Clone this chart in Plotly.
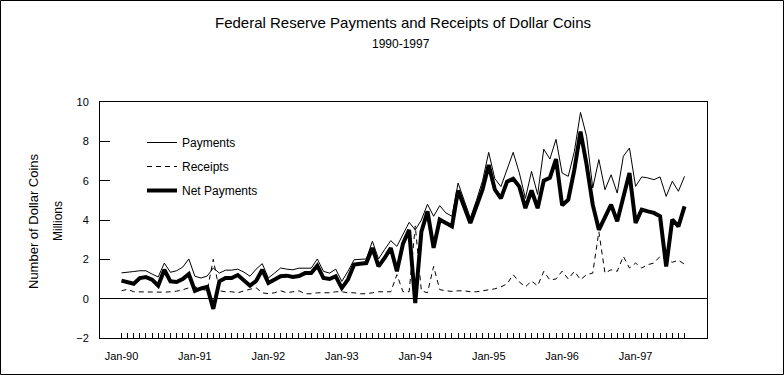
import plotly.graph_objects as go

# ---- data (millions of coins), monthly Jan-90 .. Sep-97 ----
years = ["90", "91", "92", "93", "94", "95", "96", "97"]
month_names = ["Jan", "Feb", "Mar", "Apr", "May", "Jun", "Jul", "Aug", "Sep", "Oct", "Nov", "Dec"]
months = [f"{m}-{y}" for y in years for m in month_names][:93]

tick_labels = ["Jan-90", "Jan-91", "Jan-92", "Jan-93", "Jan-94", "Jan-95", "Jan-96", "Jan-97"]

payments = [
    1.31, 1.33, 1.38, 1.42, 1.42, 1.25, 1.10, 1.81, 1.34, 1.42, 1.60, 2.02,
    1.14, 1.05, 1.15, 1.56, 1.30, 1.45, 1.45, 1.50, 1.35, 1.14, 1.50, 1.78,
    1.05, 1.30, 1.56, 1.50, 1.47, 1.55, 1.55, 1.55, 2.02, 1.39, 1.30, 1.50,
    0.88, 1.39, 1.98, 2.00, 2.02, 2.92, 2.02, 2.50, 2.95, 2.66, 3.30, 3.88,
    3.50, 4.00, 4.80, 4.19, 4.73, 4.36, 4.19, 5.88, 5.00, 4.10, 5.00, 6.00,
    7.44, 6.10, 5.70, 6.60, 7.44, 6.40, 5.10, 6.47, 5.30, 7.60, 7.10, 8.10,
    6.39, 6.22, 7.49, 9.47, 8.25, 5.63, 7.07, 5.54, 6.30, 5.37, 7.24, 7.66,
    5.71, 6.19, 6.14, 6.05, 6.19, 5.20, 5.97, 5.46, 6.22,
]

receipts = [
    0.40, 0.48, 0.35, 0.34, 0.33, 0.32, 0.33, 0.33, 0.35, 0.38, 0.45, 0.55,
    0.60, 0.50, 0.40, 2.00, 0.40, 0.35, 0.35, 0.30, 0.40, 0.48, 0.55, 0.30,
    0.25, 0.30, 0.40, 0.30, 0.35, 0.40, 0.25, 0.25, 0.30, 0.30, 0.30, 0.35,
    0.35, 0.30, 0.30, 0.25, 0.25, 0.30, 0.35, 0.35, 0.35, 1.22, 0.35, 0.35,
    3.70, 0.40, 0.30, 1.64, 0.46, 0.40, 0.37, 0.40, 0.40, 0.35, 0.35, 0.40,
    0.45, 0.50, 0.60, 0.75, 1.22, 0.85, 0.60, 0.90, 0.65, 1.39, 0.95, 1.00,
    1.40, 1.00, 1.39, 0.97, 1.22, 1.30, 3.40, 1.30, 1.47, 1.39, 2.15, 1.56,
    1.81, 1.56, 1.73, 1.81, 2.15, 1.98, 1.85, 1.95, 1.75,
]

net_payments = [
    0.92, 0.82, 0.76, 1.05, 1.10, 0.97, 0.66, 1.47, 0.88, 0.85, 1.00, 1.25,
    0.40, 0.52, 0.60, -0.52, 0.88, 1.05, 1.05, 1.20, 0.95, 0.66, 0.90, 1.47,
    0.80, 0.95, 1.14, 1.17, 1.10, 1.15, 1.30, 1.30, 1.68, 1.05, 1.00, 1.14,
    0.54, 0.97, 1.73, 1.78, 1.81, 2.58, 1.64, 2.07, 2.58, 1.39, 2.80, 3.50,
    -0.22, 3.40, 4.44, 2.58, 4.02, 3.85, 3.68, 5.50, 4.60, 3.85, 4.70, 5.55,
    6.80, 5.55, 5.10, 5.95, 6.10, 5.70, 4.60, 5.50, 4.60, 6.00, 6.14, 7.10,
    4.75, 5.03, 6.56, 8.50, 6.81, 4.78, 3.50, 4.19, 4.78, 3.93, 5.20, 6.39,
    3.85, 4.53, 4.44, 4.36, 4.19, 1.64, 4.02, 3.68, 4.69,
]

FONT = "Arial, Liberation Sans, sans-serif"

fig = go.Figure()
fig.add_trace(go.Scatter(x=months, y=payments, mode="lines", name="Payments",
                         legendgroup="p", line=dict(color="black", width=1)))
fig.add_trace(go.Scatter(x=months, y=receipts, mode="lines", name="Receipts",
                         legendgroup="r", line=dict(color="black", width=1, dash="5px,4px")))
fig.add_trace(go.Scatter(x=months, y=net_payments, mode="lines", name="Net Payments",
                         legendgroup="n", line=dict(color="black", width=4)))

# margins: plot area x 100..707, y 102..338
W, H = 784, 375
L, R, T, B = 100, 77, 102, 37
pw, ph = W - L - R, H - T - B

def px_x(p):
    return (p - L) / pw

def px_y(p):
    return (H - B - p) / ph

fig.update_layout(
    width=W, height=H,
    margin=dict(l=L, r=R, t=T, b=B),
    paper_bgcolor="white", plot_bgcolor="white",
    font=dict(family=FONT, color="black", size=11),
    showlegend=True,
    legend=dict(x=px_x(142), y=px_y(128), xanchor="left", yanchor="top",
                bgcolor="rgba(0,0,0,0)", font=dict(size=12, family=FONT),
                tracegroupgap=5, traceorder="grouped"),
    shapes=[dict(type="rect", xref="paper", yref="paper",
                 x0=px_x(0.5), x1=px_x(783.5), y0=px_y(374.5), y1=px_y(0.5),
                 line=dict(color="black", width=1), fillcolor="rgba(0,0,0,0)")],
    annotations=[
        dict(text="Federal Reserve Payments and Receipts of Dollar Coins", xref="paper", yref="paper",
             x=px_x(403), y=px_y(22), xanchor="center", yanchor="middle",
             showarrow=False, font=dict(size=15, family=FONT)),
        dict(text="1990-1997", xref="paper", yref="paper",
             x=px_x(401), y=px_y(44), xanchor="center", yanchor="middle",
             showarrow=False, font=dict(size=12, family=FONT)),
        dict(text="Number of Dollar Coins", xref="paper", yref="paper", textangle=-90,
             x=px_x(33), y=px_y(221), xanchor="center", yanchor="middle",
             showarrow=False, font=dict(size=13, family=FONT)),
        dict(text="Millions", xref="paper", yref="paper", textangle=-90,
             x=px_x(58), y=px_y(221), xanchor="center", yanchor="middle",
             showarrow=False, font=dict(size=12, family=FONT)),
    ],
)

fig.update_xaxes(
    type="category", range=[-3.51, 95.67],
    tickmode="array", tickvals=months,
    ticktext=[m if m in tick_labels else "" for m in months],
    ticks="inside", ticklen=5, tickcolor="black", tickwidth=1,
    showline=True, linecolor="black", linewidth=1, mirror=True,
    showgrid=False, zeroline=False, ticklabelstandoff=8,
    tickfont=dict(size=11, family=FONT),
)
fig.update_yaxes(
    range=[-2, 10], tickmode="array", tickvals=[-2, 0, 2, 4, 6, 8, 10],
    ticks="inside", ticklen=10, tickcolor="black", tickwidth=1,
    showline=True, linecolor="black", linewidth=1, mirror=True,
    showgrid=False, zeroline=True, zerolinecolor="black", zerolinewidth=1,
    ticklabelstandoff=8, tickfont=dict(size=11, family=FONT),
)

fig.write_html("out.html", config={"displayModeBar": False},
               post_script="document.body.style.margin='0px';")
